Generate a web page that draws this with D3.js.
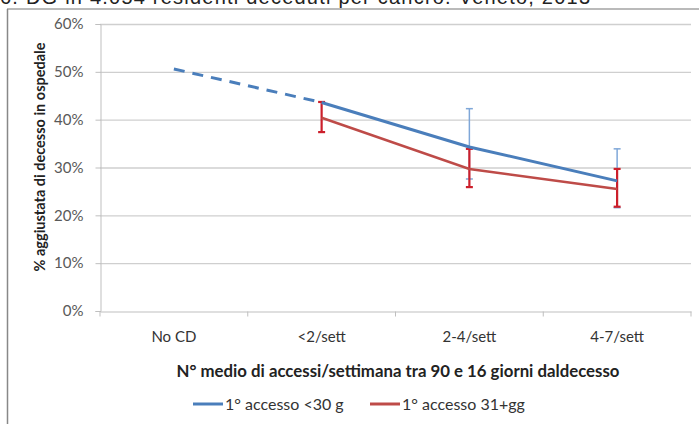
<!DOCTYPE html>
<html><head><meta charset="utf-8">
<script src="https://cdn.jsdelivr.net/npm/d3@7"></script>
<style>
body{margin:0;background:#fff;}
svg text{font-family:"Lato","Open Sans",sans-serif;}
</style></head>
<body><svg id="c" width="699" height="424"></svg>
<script>
const categories = ["No CD", "<2/sett", "2-4/sett", "4-7/sett"];
const blueValues = [50.6, 43.6, 34.3, 27.2];
const blueLow = [null, null, 27.6, 21.6];
const blueHigh = [null, null, 42.3, 33.9];
const redValues = [null, 40.4, 29.7, 25.5];
const redLow = [null, 37.4, 25.9, 21.8];
const redHigh = [null, 43.7, 33.9, 29.7];
const yTicks = [0, 10, 20, 30, 40, 50, 60];
const seriesNames = ["1° accesso <30 g", "1° accesso 31+gg"];
const titleText = "6. DG in 4.054 residenti deceduti per cancro. Veneto, 2013";
const xTitle = "N° medio di accessi/settimana tra 90 e 16 giorni daldecesso";
const yTitle = "% aggiustata di decesso in ospedale";

const svg = d3.select("#c");
const L = 100, R = 691, T = 24, B = 311;
const x = d3.scaleBand().domain(categories).range([L, R]);
const y = d3.scaleLinear().domain([0, 60]).range([B, T]);
const cx = c => x(c) + x.bandwidth() / 2;

// cut-off title and border
svg.append("text").attr("x", 0).attr("y", 4).attr("font-size", 20)
  .attr("fill", "#222").style("font-family", "Liberation Sans, Arial, sans-serif")
  .attr("textLength", 590).text(titleText);
svg.append("line").attr("x1", 7).attr("x2", 699).attr("y1", 9).attr("y2", 9).attr("stroke", "#777").attr("stroke-width", 1.2);
svg.append("line").attr("x1", 7.5).attr("x2", 7.5).attr("y1", 9).attr("y2", 424).attr("stroke", "#888").attr("stroke-width", 1.5);

// gridlines
svg.append("g").selectAll("line").data(yTicks.filter(d => d > 0)).join("line")
  .attr("x1", L).attr("x2", R).attr("y1", d => y(d) + 0.5).attr("y2", d => y(d) + 0.5)
  .attr("stroke", "#cfcfcf").attr("stroke-width", 1.3);

// y axis
const yAxis = svg.append("g").attr("transform", `translate(${L + 0.5},0)`)
  .call(d3.axisLeft(y).tickValues(yTicks).tickSize(5).tickPadding(12).tickFormat(d => d + "%"));
yAxis.select(".domain").attr("stroke", "#bfbfbf");
yAxis.selectAll(".tick line").attr("stroke", "#bfbfbf");
yAxis.selectAll(".tick text").attr("font-size", 15).attr("fill", "#595959");

// x axis
const xAxis = svg.append("g").attr("transform", `translate(0,${B + 0.5})`)
  .call(d3.axisBottom(x).tickSize(0).tickPadding(20));
xAxis.select(".domain").attr("stroke", "#bfbfbf");
xAxis.selectAll(".tick text").attr("font-size", 15).attr("fill", "#333");
xAxis.append("g").selectAll("line").data(categories.map(c => x(c)).concat([R])).join("line")
  .attr("x1", d => d).attr("x2", d => d).attr("y1", 0).attr("y2", 5).attr("stroke", "#bfbfbf");

// axis titles
svg.append("text").attr("x", 398).attr("y", 377).attr("text-anchor", "middle")
  .attr("font-size", 16.8).attr("font-weight", "bold").attr("fill", "#222").text(xTitle);
svg.append("text").attr("transform", `translate(45,157) rotate(-90)`).attr("text-anchor", "middle")
  .attr("font-size", 14.5).attr("font-weight", "bold").attr("fill", "#222").text(yTitle);

const blue = "#4a7ebb", red = "#be4b48";
const blueErr = "#7fa7d8", redErr = "#cc1f2b";

// blue line: dashed first segment, solid rest
const line = d3.line().x(d => cx(d.c)).y(d => y(d.v));
const bpts = categories.map((c, i) => ({c, v: blueValues[i]}));
svg.append("path").attr("d", line(bpts.slice(0, 2))).attr("fill", "none")
  .attr("stroke", blue).attr("stroke-width", 3).attr("stroke-dasharray", "11,8");
// blue error bars
const eb = svg.append("g");
categories.forEach((c, i) => {
  if (blueLow[i] == null) return;
  eb.append("line").attr("x1", cx(c)).attr("x2", cx(c)).attr("y1", y(blueLow[i])).attr("y2", y(blueHigh[i])).attr("stroke", blueErr).attr("stroke-width", 1.5);
  [blueLow[i], blueHigh[i]].forEach(v => eb.append("line").attr("x1", cx(c) - 3.5).attr("x2", cx(c) + 3.5).attr("y1", y(v)).attr("y2", y(v)).attr("stroke", blueErr).attr("stroke-width", 1.5));
});
// red line
const rpts = categories.map((c, i) => ({c, v: redValues[i]})).filter(d => d.v != null);
svg.append("path").attr("d", line(rpts)).attr("fill", "none").attr("stroke", red).attr("stroke-width", 2.5);
// red error bars
categories.forEach((c, i) => {
  if (redLow[i] == null) return;
  eb.append("line").attr("x1", cx(c)).attr("x2", cx(c)).attr("y1", y(redLow[i])).attr("y2", y(redHigh[i])).attr("stroke", redErr).attr("stroke-width", 2.2);
  [redLow[i], redHigh[i]].forEach(v => eb.append("line").attr("x1", cx(c) - 3.5).attr("x2", cx(c) + 3.5).attr("y1", y(v)).attr("y2", y(v)).attr("stroke", redErr).attr("stroke-width", 2.2));
});
svg.append("path").attr("d", line(bpts.slice(1))).attr("fill", "none")
  .attr("stroke", blue).attr("stroke-width", 3);

// legend
const leg = [{n: seriesNames[0], c: blue, x: 193}, {n: seriesNames[1], c: red, x: 370}];
const lg = svg.append("g").selectAll("g").data(leg).join("g");
lg.append("line").attr("x1", d => d.x).attr("x2", d => d.x + 30).attr("y1", 404).attr("y2", 404)
  .attr("stroke", d => d.c).attr("stroke-width", 3);
lg.append("text").attr("x", d => d.x + 32).attr("y", 409.5).attr("font-size", 16).attr("fill", "#333").text(d => d.n);
</script></body></html>
